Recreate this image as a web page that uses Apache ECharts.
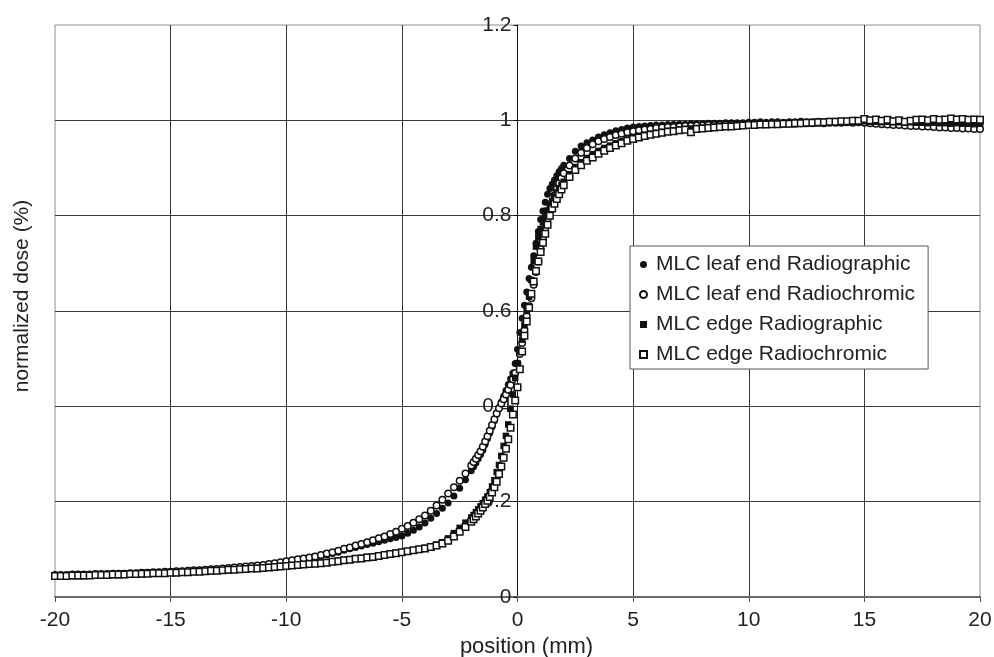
<!DOCTYPE html>
<html>
<head>
<meta charset="utf-8">
<style>html,body{margin:0;padding:0;background:#fff}#c{width:994px;height:657px}</style>
<script src="https://cdn.jsdelivr.net/npm/echarts@6/dist/echarts.min.js"></script>
</head>
<body>
<div id="c"></div>
<script>
// positions (mm)
const positions = [
-20,-19.75,-19.5,-19.25,-19,-18.75,-18.5,-18.25,-18,-17.75,-17.5,-17.25,-17,-16.75,-16.5,-16.25,
-16,-15.75,-15.5,-15.25,-15,-14.75,-14.5,-14.25,-14,-13.75,-13.5,-13.25,-13,-12.75,-12.5,-12.25,
-12,-11.75,-11.5,-11.25,-11,-10.75,-10.5,-10.25,-10,-9.75,-9.5,-9.25,-9,-8.75,-8.5,-8.25,
-8,-7.75,-7.5,-7.25,-7,-6.75,-6.5,-6.25,-6,-5.75,-5.5,-5.25,-5,-4.75,-4.5,-4.25,
-4,-3.75,-3.5,-3.25,-3,-2.75,-2.5,-2.25,-2,
-1.9,-1.8,-1.7,-1.6,-1.5,-1.4,-1.3,-1.2,-1.1,-1.0,
-0.9,-0.8,-0.7,-0.6,-0.5,-0.4,-0.3,-0.2,-0.1,0,
0.1,0.2,0.3,0.4,0.5,0.6,0.7,0.8,0.9,1.0,
1.1,1.2,1.3,1.4,1.5,1.6,1.7,1.8,1.9,
2,2.25,2.5,2.75,3,3.25,3.5,3.75,4,4.25,4.5,4.75,5,5.25,5.5,5.75,
6,6.25,6.5,6.75,7,7.25,7.5,7.75,8,8.25,8.5,8.75,9,9.25,9.5,9.75,
10,10.25,10.5,10.75,11,11.25,11.5,11.75,12,12.25,12.5,12.75,13,13.25,13.5,13.75,
14,14.25,14.5,14.75,15,15.25,15.5,15.75,16,16.25,16.5,16.75,17,17.25,17.5,17.75,
18,18.25,18.5,18.75,19,19.25,19.5,19.75,20
];

// MLC leaf end Radiographic
const leafEndRadiographic = [
.045,.045,.045,.046, .046,.046,.047,.047, .047,.048,.048,.048, .049,.049,.050,.050,
.051,.051,.052,.052, .053,.053,.054,.055, .055,.056,.057,.057, .058,.059,.060,.061,
.062,.063,.064,.065, .066,.068,.070,.072, .074,.075,.077,.079, .081,.083,.086,.088,
.091,.094,.098,.101, .104,.107,.110,.113, .116,.119,.122,.125, .128,.134,.140,.147,
.155,.165,.175,.186, .197,.212,.228,.246, .265,
.273,.281,.290,.299,.308,.320,.332,.344,.357,.370,
.384,.397,.409,.421,.433,.446,.458,.470,.490,.520,
.555,.585,.612,.640,.668,.692,.716,.742,.767,.792,
.810,.828,.845,.857,.866,.875,.884,.892,.899,
.906,.920,.935,.946, .953,.959,.965,.970, .974,.978,.981,.984, .986,.987,.988,.989,
.990,.990,.991,.991, .992,.992,.993,.993, .993,.994,.994,.994, .995,.995,.995,.995,
.996,.996,.997,.996, .997,.997,.996,.997, .997,.998,.997,.997, .998,.997,.998,.998,
.997,.998,.998,.999, .998,.997,.996,.997, .996,.995,.996,.995, .995,.994,.995,.994,
.994,.993,.994,.993, .993,.992,.993,.992, .992
];

// MLC leaf end Radiochromic
const leafEndRadiochromic = [
.046,.046,.046,.047, .047,.047,.047,.048, .048,.048,.049,.049, .049,.050,.050,.051,
.051,.052,.052,.053, .053,.054,.054,.055, .056,.056,.057,.058, .059,.060,.061,.062,
.063,.064,.065,.066, .067,.069,.071,.073, .075,.077,.079,.081, .083,.085,.088,.091,
.094,.097,.101,.104, .108,.111,.115,.119, .123,.127,.132,.137, .143,.149,.156,.163,
.171,.181,.192,.204, .217,.230,.244,.259, .276,
.283,.290,.298,.306,.315,.326,.337,.349,.361,.373,
.385,.396,.406,.415,.425,.435,.445,.457,.470,.490,
.510,.533,.560,.590,.610,.627,.655,.682,.704,.730,
.752,.774,.794,.812,.828,.843,.856,.868,.879,
.889,.905,.920,.932, .942,.950,.956,.961, .965,.969,.972,.975, .977,.979,.981,.982,
.984,.985,.986,.986, .987,.988,.988,.989, .989,.990,.990,.990, .991,.991,.991,.992,
.992,.992,.993,.992, .993,.993,.993,.994, .993,.994,.994,.994, .995,.994,.995,.995,
.995,.996,.995,.996, .995,.994,.993,.992, .991,.990,.990,.989, .988,.988,.987,.987,
.986,.985,.985,.984, .984,.983,.983,.982, .982
];

// MLC edge Radiographic
const edgeRadiographic = [
.043,.043,.043,.044, .044,.044,.045,.045, .045,.046,.046,.046, .047,.047,.048,.048,
.049,.049,.050,.050, .051,.051,.052,.052, .053,.053,.054,.054, .055,.056,.056,.057,
.058,.059,.060,.061, .062,.063,.064,.065, .066,.067,.068,.069, .070,.071,.072,.073,
.075,.076,.078,.079, .081,.082,.084,.085, .087,.089,.091,.093, .094,.096,.098,.100,
.103,.106,.110,.115, .123,.134,.145,.156, .167,
.172,.178,.184,.190,.197,.204,.211,.220,.232,.245,
.262,.277,.296,.317,.338,.362,.395,.425,.460,.490,
.515,.540,.570,.600,.630,.665,.705,.735,.755,.772,
.786,.799,.811,.822,.831,.840,.849,.857,.864,
.871,.887,.902,.912, .921,.929,.936,.942, .947,.952,.956,.960, .964,.967,.970,.972,
.974,.976,.978,.979, .981,.982,.983,.984, .985,.986,.987,.987, .988,.989,.989,.990,
.990,.991,.991,.992, .992,.992,.993,.993, .993,.994,.994,.994, .995,.995,.995,.996,
.996,.996,.997,.997, .998,.997,.997,.996, .997,.996,.996,.995, .996,.995,.995,.994,
.995,.994,.994,.993, .994,.993,.993,.992, .993
];

// MLC edge Radiochromic
const edgeRadiochromic = [
.044,.044,.044,.045, .045,.045,.045,.046, .046,.046,.047,.047, .047,.048,.048,.049,
.049,.050,.050,.050, .051,.051,.052,.052, .053,.053,.054,.055, .055,.056,.057,.057,
.058,.059,.060,.060, .061,.062,.063,.064, .065,.066,.067,.068, .069,.070,.071,.072,
.074,.075,.077,.078, .080,.081,.083,.084, .086,.088,.090,.092, .094,.096,.098,.100,
.102,.105,.108,.112, .118,.127,.137,.147, .158,
.163,.169,.175,.181,.188,.195,.202,.210,.219,.230,
.242,.258,.274,.292,.311,.331,.355,.383,.412,.440,
.478,.515,.548,.578,.607,.636,.662,.684,.704,.724,
.743,.762,.781,.800,.815,.825,.835,.845,.855,
.864,.881,.896,.906, .915,.922,.930,.936, .942,.947,.952,.957, .961,.964,.967,.970,
.972,.974,.976,.977, .979,.980,.975,.982, .983,.984,.985,.986, .987,.987,.988,.989,
.990,.990,.991,.991, .992,.992,.993,.993, .994,.994,.995,.995, .996,.996,.997,.997,
.998,.998,.999,.999, 1.003,1.000,1.002,.999, 1.001,.998,1.000,.997, .999,1.001,1.002,1.000,
1.003,1.001,1.002,1.004, 1.002,1.003,1.001,1.002, 1.001
];

const seriesNames = ['MLC leaf end Radiographic','MLC leaf end Radiochromic','MLC edge Radiographic','MLC edge Radiochromic'];
const xTicks = {min:-20, max:20, interval:5};
const yTicks = {min:0, max:1.2, interval:0.2};

[leafEndRadiographic, leafEndRadiochromic, edgeRadiographic, edgeRadiochromic].forEach((a, k) => {
  if (a.length !== positions.length) throw new Error('length mismatch series ' + k + ': ' + a.length + ' vs ' + positions.length);
});

const FONT = '"Liberation Sans", Arial, Helvetica, sans-serif';
const pair = arr => positions.map((x, i) => [x, arr[i]]);

const GRID = {left: 55, right: 14, top: 25, bottom: 60};
const plotW = 994 - GRID.left - GRID.right;
// y axis sits where x = 0
const yAxisOffset = -plotW * (0 - xTicks.min) / (xTicks.max - xTicks.min);

const chart = echarts.init(document.getElementById('c'), null, {renderer: 'canvas'});
chart.setOption({
  animation: false,
  backgroundColor: '#fff',
  textStyle: {fontFamily: FONT},
  grid: Object.assign({show: true, borderColor: '#8c8c8c', borderWidth: 1, backgroundColor: '#fff',
    containLabel: false, outerBoundsMode: 'none'}, GRID),
  legend: {
    orient: 'vertical', left: 630, top: 246,
    padding: [8, 13, 4, 9], itemGap: 9,
    itemWidth: 7, itemHeight: 7,
    backgroundColor: '#fff', borderColor: '#555', borderWidth: 1,
    textStyle: {fontSize: 21, color: '#222', fontFamily: FONT, padding: [0, 0, 0, 4]},
    data: seriesNames
  },
  xAxis: {
    type: 'value', min: xTicks.min, max: xTicks.max, interval: xTicks.interval,
    name: 'position (mm)', nameLocation: 'middle', nameGap: 38,
    nameTextStyle: {fontSize: 22, color: '#222', fontFamily: FONT, padding: [0, 0, 0, 18]},
    axisLine: {onZero: false, lineStyle: {color: '#6a6a6a', width: 2}},
    axisTick: {show: true, length: 5, lineStyle: {color: '#555'}},
    axisLabel: {fontSize: 21, color: '#222', margin: 13, fontFamily: FONT},
    splitLine: {show: true, showMinLine: false, showMaxLine: false, lineStyle: {color: '#3a3a3a', width: 1}}
  },
  yAxis: {
    type: 'value', min: yTicks.min, max: yTicks.max, interval: yTicks.interval,
    position: 'left', offset: yAxisOffset,
    axisLine: {show: true, onZero: false, lineStyle: {color: '#111', width: 1}},
    axisTick: {show: true, length: 4, lineStyle: {color: '#111'}},
    axisLabel: {fontSize: 21, color: '#222', margin: 6, fontFamily: FONT},
    splitLine: {show: true, showMinLine: false, showMaxLine: false, lineStyle: {color: '#3a3a3a', width: 1}}
  },
  graphic: [{
    type: 'text', x: 22, y: 296, rotation: Math.PI / 2,
    style: {text: 'normalized dose (%)', font: '21px ' + FONT, fill: '#222', align: 'center', verticalAlign: 'middle'}
  }],
  series: [
    {name: seriesNames[0], type: 'scatter', data: pair(leafEndRadiographic), symbol: 'circle', symbolSize: 7,
     itemStyle: {color: '#111', opacity: 1}},
    {name: seriesNames[1], type: 'scatter', data: pair(leafEndRadiochromic), symbol: 'circle', symbolSize: 6.5,
     itemStyle: {color: '#fff', borderColor: '#111', borderWidth: 1.5, opacity: 1}},
    {name: seriesNames[2], type: 'scatter', data: pair(edgeRadiographic), symbol: 'rect', symbolSize: 6.5,
     itemStyle: {color: '#111', opacity: 1}},
    {name: seriesNames[3], type: 'scatter', data: pair(edgeRadiochromic), symbol: 'rect', symbolSize: 6.5,
     itemStyle: {color: '#fff', borderColor: '#111', borderWidth: 1.5, opacity: 1}}
  ]
});
</script>
</body>
</html>
